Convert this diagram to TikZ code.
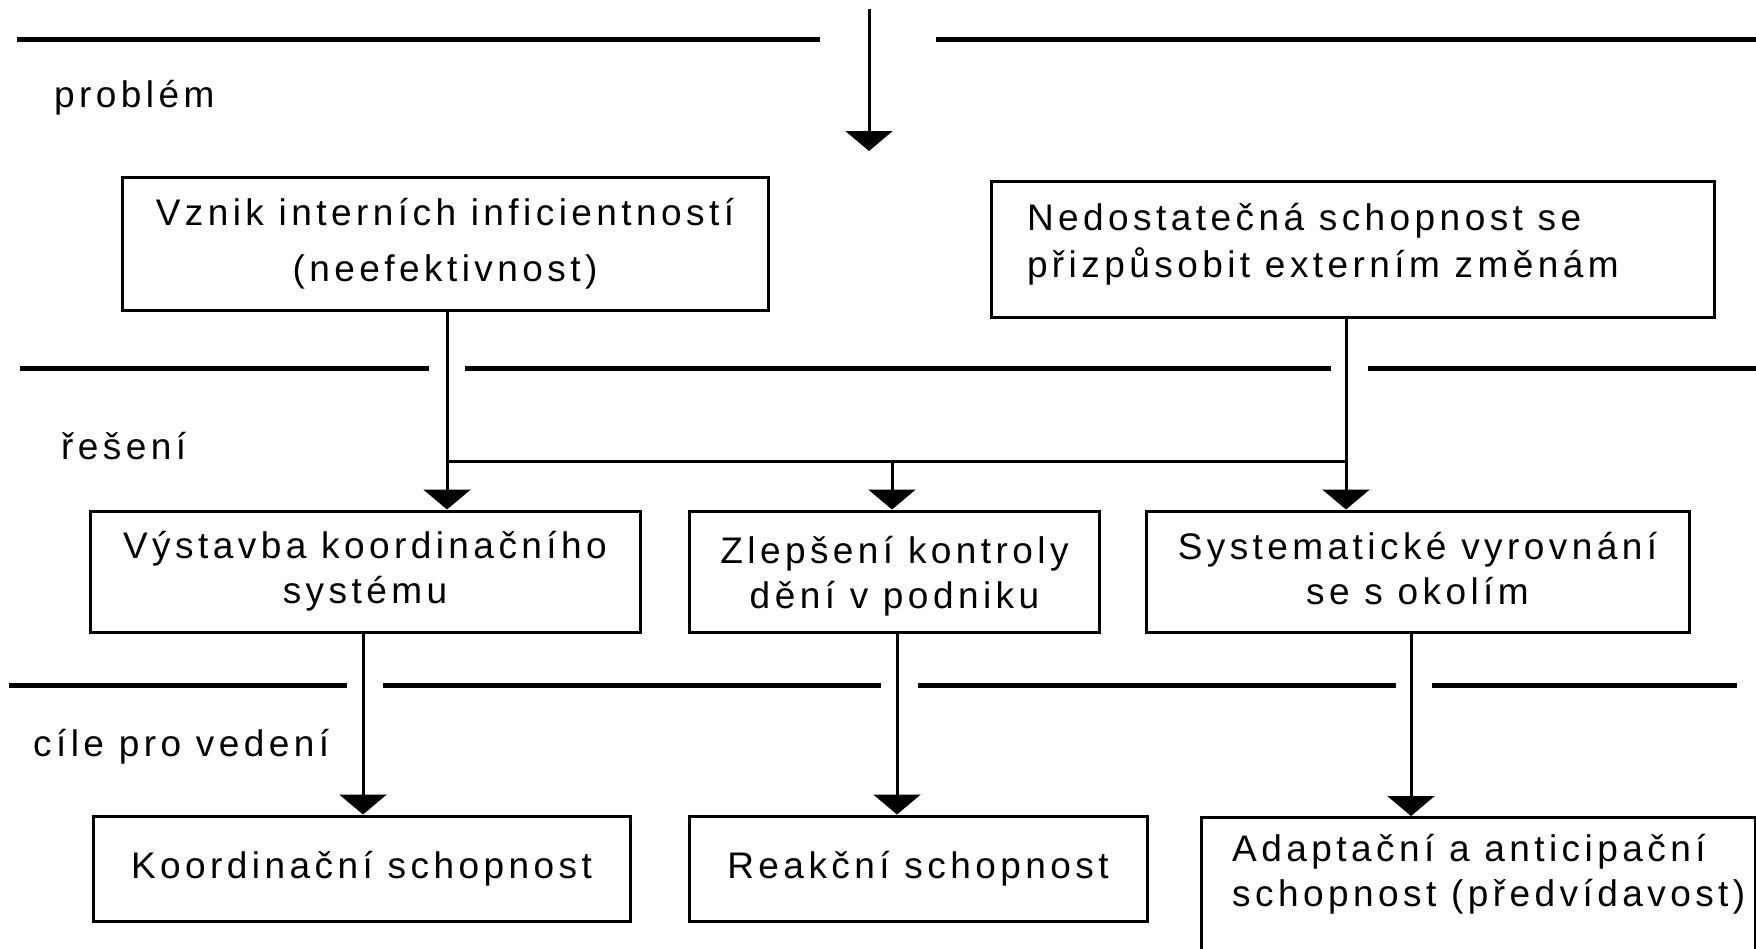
\documentclass[tikz,border=0pt]{standalone}
\usepackage{fontspec}
\setmainfont{Liberation Sans}[LetterSpace=12]
\usetikzlibrary{arrows.meta}

\tikzset{
  rule/.style={line width=5pt},
  link/.style={line width=3pt},
  arr/.style={link, -{Triangle[width=47pt,length=20pt]}},
  box/.style={draw, line width=3pt, inner sep=0pt, align=center,
    font=\fontsize{37}{45}\selectfont},
  txt/.style={inner sep=0pt, font=\fontsize{37}{45}\selectfont},
  lbl/.style={txt, anchor=base west},
}
% extra space below (#1) or above (#2) a text block, moving it off the box centre
\newcommand{\padbox}[3]{\raisebox{0pt}[\dimexpr\height+#2\relax][\dimexpr\depth+#1\relax]{#3}}

\begin{document}
\begin{tikzpicture}[x=1pt,y=-1pt]
  \useasboundingbox (0,0) rectangle (1756,948);
  \clip (0,0) rectangle (1756,948);

  % level rules
  \draw[rule] (17,39) -- (820,39)  (936,39) -- (1756,39);
  \draw[rule] (20,368) -- (429,368)  (465,368) -- (1331,368)  (1368,368) -- (1756,368);
  \draw[rule] (9,685) -- (347,685)  (383,685) -- (881,685)  (918,685) -- (1396,685)  (1432,685) -- (1737,685);

  % level names
  \node[lbl] (lp) at (54,107) {problém};
  \node[lbl] (lr) at (61,459) {řešení};
  \node[lbl] (lc) at (33,756) {cíle pro vedení};

  % problems
  \node[box, minimum width=646pt, minimum height=133pt,
        font=\fontsize{37}{56}\selectfont] (b1) at (445,243.5)
        {Vznik interních inficientností\\(neefektivnost)};
  \node[box, inner xsep=36pt, minimum height=136pt,
        font=\fontsize{37}{47}\selectfont] (b2) at (1352.5,249)
        {\padbox{10pt}{0pt}{\parbox{651pt}{\raggedright Nedostatečná schopnost se\\přizpůsobit externím změnám}}};

  % solutions
  \node[box, minimum width=550pt, minimum height=121pt] (b3) at (365,571.5)
        {Výstavba koordinačního\\systému};
  \node[box, minimum width=410pt, minimum height=121pt] (b4) at (894.5,571.5)
        {\padbox{0pt}{9pt}{\parbox{400pt}{\centering Zlepšení kontroly\\dění v podniku}}};
  \node[box, minimum width=543pt, minimum height=121pt] (b5) at (1417.5,571.5)
        {\padbox{5pt}{0pt}{\parbox{530pt}{\centering Systematické vyrovnání\\se s okolím}}};

  % goals
  \node[box, minimum width=537pt, minimum height=105pt] (b6) at (361.5,868.5)
        {Koordinační schopnost};
  \node[box, minimum width=458pt, minimum height=105pt] (b7) at (918,868.5)
        {Reakční schopnost};
  \node[box, anchor=north west, minimum width=554pt, minimum height=200pt] (b8) at (1200,816) {};
  \node[txt, align=left, anchor=west] (b8t) at ([xshift=32pt,yshift=-58pt]b8.north west)
        {Adaptační a anticipační\\schopnost (předvídavost)};

  % incoming problem arrow
  \coordinate (in0) at (869,9);
  \coordinate (in1) at (869,151);
  \draw[arr] (in0) -- (in1);

  % problems to solutions
  \coordinate (jl) at (447,461);
  \coordinate (jm) at (892,461);
  \coordinate (jr) at (1346,461);
  \draw[link] (jl |- b1.south) -- (jl) -- (jr);
  \draw[link] (jr |- b2.south) -- (jr);
  \draw[arr] (jl) -- (jl |- b3.north);
  \draw[arr] (jm) -- (jm |- b4.north);
  \draw[arr] (jr) -- (jr |- b5.north);

  % solutions to goals
  \coordinate (k3) at (363,0);
  \coordinate (k4) at (897,0);
  \coordinate (k5) at (1411,0);
  \draw[arr] (k3 |- b3.south) -- (k3 |- b6.north);
  \draw[arr] (k4 |- b4.south) -- (k4 |- b7.north);
  \draw[arr] (k5 |- b5.south) -- (k5 |- b8.north);
\end{tikzpicture}
\end{document}
